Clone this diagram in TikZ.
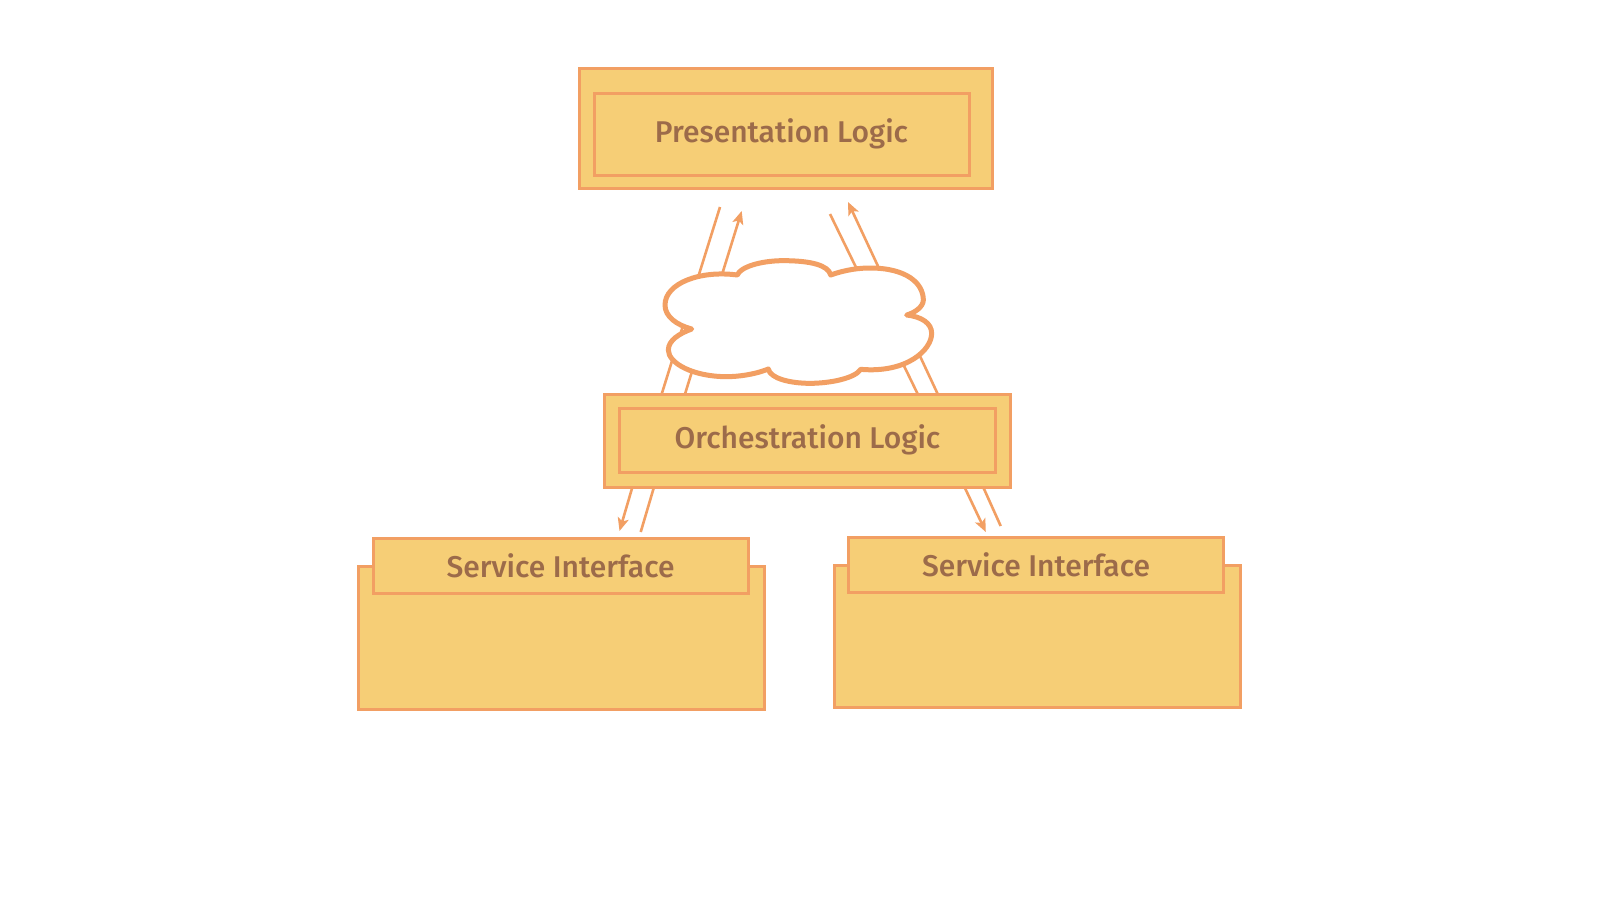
\documentclass[tikz,border=0pt]{standalone}
\usepackage{fontspec}
\setmainfont{Fira Sans}[BoldFont={Fira Sans Medium}]
\usetikzlibrary{arrows.meta}
\definecolor{fillc}{HTML}{F6CE76}
\definecolor{linec}{HTML}{F29F63}
\definecolor{textc}{HTML}{9C6B4A}
\tikzset{
  boxs/.style={draw=linec,fill=fillc,line width=3pt,inner sep=0pt,outer sep=0pt,text=textc,font=\fontsize{30}{36}\selectfont\bfseries},
  wire/.style={draw=linec,line width=2.6pt},
  arrowwire/.style={wire,-{Stealth[length=13pt,width=11pt,inset=3pt]}},
  cloudline/.style={draw=linec,fill=white,line width=5pt,line join=round}
}
\begin{document}
\begin{tikzpicture}[x=1pt,y=-1pt]
\path[use as bounding box,fill=white] (0,0) rectangle (1600,900);
% free ends of connectors
\coordinate (a1s) at (661.7,394); \coordinate (a1e) at (720,207);
\coordinate (a2s) at (685,394);   \coordinate (a2e) at (741.7,211);
\coordinate (a3s) at (917.7,394); \coordinate (a3e) at (830,214);
\coordinate (a4s) at (937.7,394); \coordinate (a4e) at (848,202);
\coordinate (b1s) at (632.7,486); \coordinate (b1e) at (619.5,531);
\coordinate (b2s) at (654.3,486); \coordinate (b2e) at (640.7,532);
\coordinate (b3s) at (964,486);   \coordinate (b3e) at (985.8,532);
\coordinate (b4s) at (982.7,486); \coordinate (b4e) at (1000.7,526);
\draw[wire] (a1s) -- (a1e);
\draw[arrowwire] (a2s) -- (a2e);
\draw[wire] (a3s) -- (a3e);
\draw[arrowwire] (a4s) -- (a4e);
\draw[arrowwire] (b1s) -- (b1e);
\draw[wire] (b2s) -- (b2e);
\draw[arrowwire] (b3s) -- (b3e);
\draw[wire] (b4s) -- (b4e);
% cloud
\begin{scope}[shift={(620,190)},x=0.33333pt,y=-0.33333pt]
\draw[cloudline] (352,255)
 .. controls (360,232) and (420,212) .. (490,212)
 .. controls (570,212) and (625,225) .. (632,255)
 .. controls (680,238) and (720,234) .. (750,234)
 .. controls (860,234) and (910,280) .. (910,330)
 .. controls (910,350) and (885,368) .. (860,375)
 .. controls (905,380) and (935,400) .. (935,430)
 .. controls (935,480) and (860,550) .. (722,538)
 .. controls (705,565) and (630,580) .. (570,580)
 .. controls (510,580) and (450,565) .. (445,537)
 .. controls (400,555) and (350,560) .. (320,560)
 .. controls (220,560) and (145,520) .. (145,480)
 .. controls (145,450) and (180,430) .. (215,417)
 .. controls (170,405) and (135,380) .. (135,345)
 .. controls (135,280) and (240,240) .. (352,255) -- cycle;
\end{scope}
% presentation
\node[boxs,minimum width=413pt,minimum height=120pt] (pOuter) at (785.5,128.5) {};
\node[boxs,minimum width=375pt,minimum height=82pt] (pInner) at (781.5,134) {Presentation Logic};
% orchestration
\node[boxs,minimum width=406pt,minimum height=93pt] (oOuter) at (807,440.5) {};
\node[boxs,minimum width=376pt,minimum height=64pt] (oInner) at (807.5,440) {Orchestration Logic};
% left service
\node[boxs,minimum width=406pt,minimum height=143pt] (sOne) at (561,637.5) {};
\node[boxs,minimum width=375pt,minimum height=55pt] (sOneTab) at (560.5,565.5) {Service Interface};
% right service
\node[boxs,minimum width=406pt,minimum height=142pt] (sTwo) at (1037,636) {};
\node[boxs,minimum width=375pt,minimum height=55pt] (sTwoTab) at (1036,564.5) {Service Interface};
\end{tikzpicture}
\end{document}
